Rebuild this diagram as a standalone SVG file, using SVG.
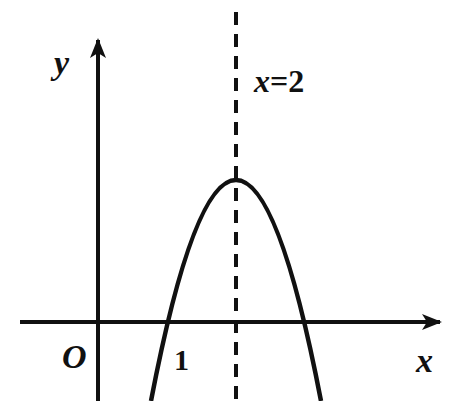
<svg xmlns="http://www.w3.org/2000/svg" width="450" height="401" viewBox="0 0 450 401">
<defs>
<marker id="arr" viewBox="0 0 20 16" refX="18" refY="8" markerWidth="20" markerHeight="16" markerUnits="userSpaceOnUse" orient="auto">
<path d="M0,0 L20,8 L0,16 L5,8 Z" fill="#111"/>
</marker>
</defs>
<style>
.ax{stroke:#111;stroke-width:4;fill:none}
.cv{stroke:#111;stroke-width:4.5;fill:none}
.ds{stroke:#111;stroke-width:4;stroke-dasharray:13 9;fill:none}
.t{font-family:"Liberation Serif",serif;font-style:italic;font-weight:bold;fill:#111}
.n{font-family:"Liberation Serif",serif;font-weight:bold;fill:#111}
</style>
<rect width="450" height="401" fill="#fff"/>
<g id="connectors">
<line class="ax" x1="20" y1="322" x2="440" y2="322" marker-end="url(#arr)"/>
<line class="ax" x1="98" y1="401" x2="98" y2="40" marker-end="url(#arr)"/>
<line class="ds" x1="236" y1="12" x2="236" y2="401"/>
</g>
<g id="curve">
<path class="cv" d="M151,401 Q236,-41 321,401"/>
</g>
<g id="labels">
<text class="t" x="54" y="74" font-size="34">y</text>
<text class="t" x="254" y="92" font-size="32">x<tspan class="n" font-style="normal">=2</tspan></text>
<text class="t" x="62" y="368" font-size="34">O</text>
<text class="n" x="174" y="370" font-size="30">1</text>
<text class="t" x="416" y="372" font-size="34">x</text>
</g>
</svg>
